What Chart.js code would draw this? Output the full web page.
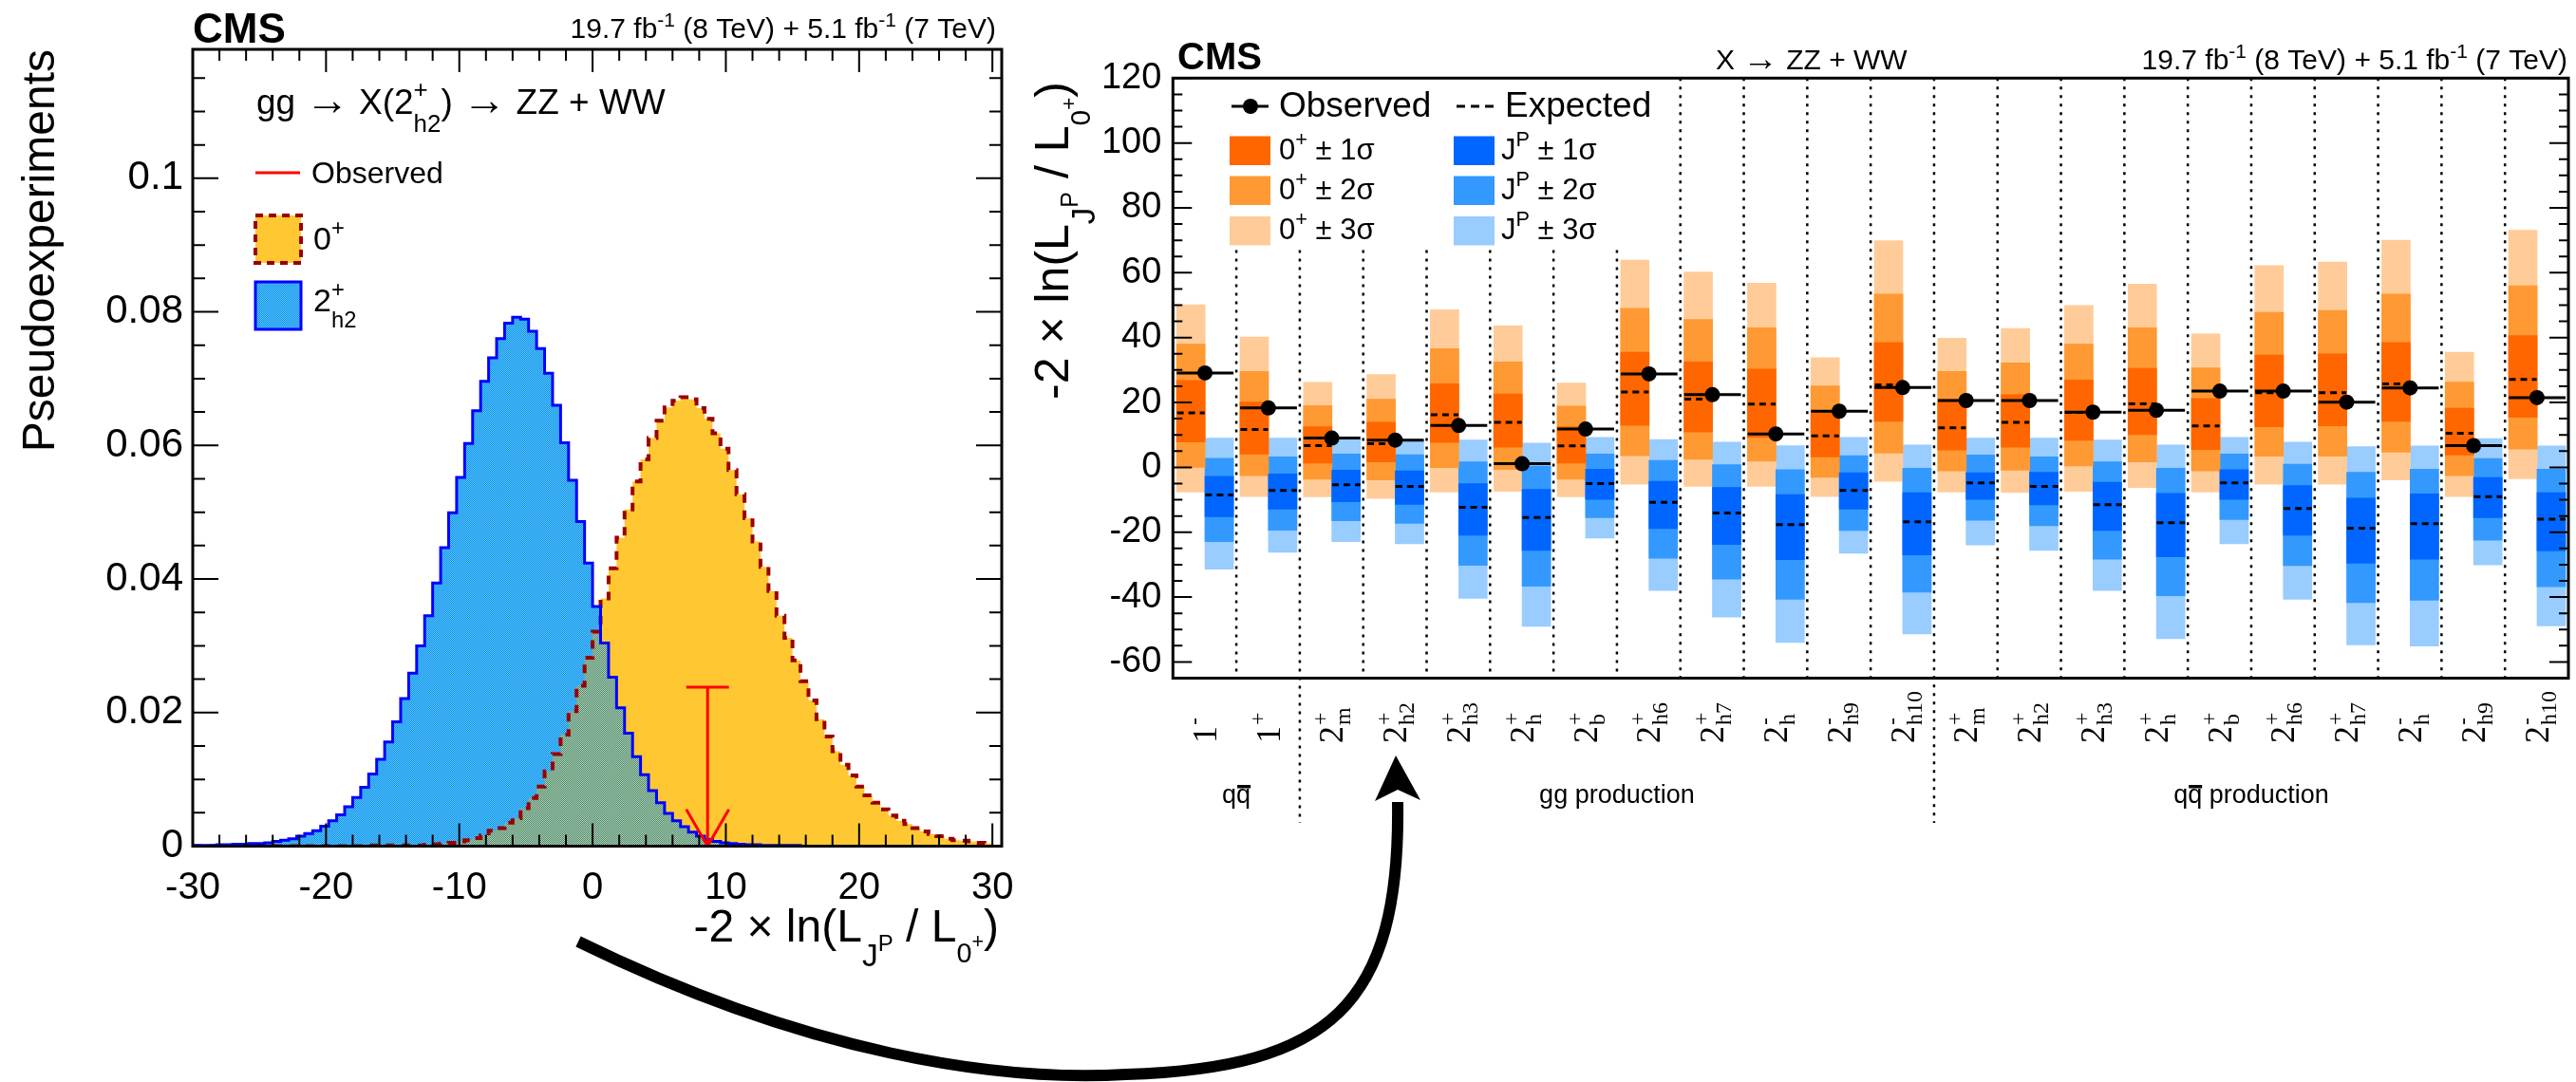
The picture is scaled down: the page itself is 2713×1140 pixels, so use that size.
<!DOCTYPE html>
<html>
<head>
<meta charset="utf-8">
<script src="https://cdn.jsdelivr.net/npm/chart.js@4.4.0/dist/chart.umd.min.js"></script>
<style>
html,body{margin:0;padding:0;background:#fff;width:2713px;height:1140px;overflow:hidden}
canvas{position:absolute;top:0}
#left{left:0}
#right{left:1060px}
#arrow{left:0;pointer-events:none}
</style>
</head>
<body>
<canvas id="left" width="1100" height="1140"></canvas>
<canvas id="right" width="1653" height="1140"></canvas>
<canvas id="arrow" width="2713" height="1140"></canvas>
<script>
/* Left: pseudoexperiment distributions for 0+ vs 2+h2. Right: test statistic summary for all J^P hypotheses. */
const SANS = '"Liberation Sans", Arial, Helvetica, "DejaVu Sans", sans-serif';
const SERIF = '"Liberation Serif", "Times New Roman", serif';

// ---- left panel data: 100 bins of 0.6 from -30 ----
const binLow = -30;
const binWidth = 0.6;
const sm0Plus = [
  0,0,0,0,0,0,0,0,0,0,
  0,0,0,0,0,0,0,0,0,0,
  0,0,0.0001,0.0001,0.0001,0.0001,0.0001,0.0001,0.0001,0.0002,
  0.0003,0.0004,0.0005,0.0007,0.0009,0.0012,0.0016,0.0023,0.0027,0.0035,
  0.0042,0.0057,0.0072,0.0089,0.0112,0.0138,0.0167,0.0202,0.0240,0.0282,
  0.0321,0.0371,0.0416,0.0462,0.0504,0.0546,0.0579,0.0611,0.0637,0.0657,
  0.0667,0.0672,0.0669,0.0656,0.0640,0.0618,0.0595,0.0563,0.0527,0.0491,
  0.0456,0.0418,0.0382,0.0345,0.0312,0.0278,0.0247,0.0218,0.0190,0.0164,
  0.0142,0.0122,0.0106,0.0089,0.0076,0.0065,0.0055,0.0046,0.0038,0.0033,
  0.0027,0.0022,0.0018,0.0015,0.0011,0.0009,0.0008,0.0007,0.0005,0.0004
];
const altH2 = [
  0.0001,0.0001,0.0001,0.0002,0.0002,0.0003,0.0003,0.0004,0.0004,0.0005,
  0.0007,0.0009,0.0011,0.0015,0.0019,0.0023,0.0030,0.0038,0.0047,0.0059,
  0.0073,0.0088,0.0108,0.0130,0.0156,0.0186,0.0221,0.0259,0.0300,0.0345,
  0.0394,0.0447,0.0499,0.0552,0.0603,0.0652,0.0696,0.0731,0.0760,0.0783,
  0.0792,0.0789,0.0771,0.0745,0.0708,0.0660,0.0604,0.0548,0.0486,0.0424,
  0.0359,0.0304,0.0253,0.0207,0.0169,0.0134,0.0107,0.0083,0.0065,0.0049,
  0.0038,0.0029,0.0021,0.0015,0.0010,0.0007,0.0005,0.0004,0.0003,0.0002,
  0.0002,0.0001,0.0001,0.0001,0.0001,0.0001,0,0,0,0,
  0,0,0,0,0,0,0,0,0,0,
  0,0,0,0,0,0,0,0,0,0
];
const observedLLR = 8.63;
const obsArrowTop = 0.0238;
const leftXTicks = [-30, -20, -10, 0, 10, 20, 30];
const leftYTicks = [0, 0.02, 0.04, 0.06, 0.08, 0.1];
const leftYLabels = ['0', '0.02', '0.04', '0.06', '0.08', '0.1'];

// ---- right panel data: one entry per hypothesis ----
const hypBase = ['1','1','2','2','2','2','2','2','2','2','2','2','2','2','2','2','2','2','2','2','2','2'];
const hypSup  = ['-','+','+','+','+','+','+','+','+','-','-','-','+','+','+','+','+','+','+','-','-','-'];
const hypSub  = ['','','m','h2','h3','h','b','h6','h7','h','h9','h10','m','h2','h3','h','b','h6','h7','h','h9','h10'];
const groupLabels = ['qq\u0304', 'gg production', 'qq\u0304 production'];
const groupCentres = [1, 7, 17];
const groupBounds = [2, 12];

const observed = [29.1,18.3,9.0,8.4,12.9,1.1,11.8,28.8,22.4,10.3,17.3,24.6,20.6,20.6,17.0,17.6,23.5,23.5,20.1,24.5,6.7,21.5];
const expected0 = [16.8,11.7,6.7,7.3,16.2,13.9,6.6,23.2,21.0,19.5,9.7,25.4,12.2,13.9,16.9,19.6,12.8,23.0,23.0,25.7,10.5,27.1];
const zero3lo = [-7.6,-9.0,-9.1,-9.6,-7.6,-7.4,-9.1,-5.2,-5.9,-5.9,-9.0,-4.3,-7.6,-7.8,-7.4,-6.2,-7.6,-5.2,-5.2,-3.9,-9.0,-3.5];
const zero2lo = [0.0,-2.6,-3.7,-3.9,-0.1,-0.7,-3.7,3.6,2.5,1.9,-3.1,4.4,-1.1,-0.9,0.4,1.7,-1.1,3.4,3.4,4.7,-2.6,5.6];
const zero1lo = [7.8,4.1,1.3,1.7,7.7,6.2,1.3,12.9,10.9,9.2,3.2,14.2,5.3,6.2,8.3,10.1,5.5,12.5,12.8,14.2,3.8,15.4];
const zero1hi = [26.8,20.1,12.5,13.9,25.8,22.6,12.5,35.5,32.5,30.3,17.0,38.5,21.0,22.4,26.9,30.5,21.2,34.6,35.0,38.5,18.2,40.6];
const zero2hi = [38.0,29.6,19.0,21.0,36.6,32.5,18.9,49.0,45.6,43.0,25.1,53.4,29.6,32.2,38.0,43.0,30.7,47.8,48.4,53.4,26.3,56.0];
const zero3hi = [50.1,40.2,26.2,28.6,48.6,43.6,26.0,63.9,60.2,56.8,33.8,69.9,39.8,42.8,49.9,56.5,41.1,62.2,63.3,70.0,35.5,73.1];
const expectedJP = [-8.5,-7.1,-5.4,-5.9,-12.3,-15.5,-5.0,-10.8,-14.1,-17.7,-7.1,-16.8,-4.8,-5.9,-11.5,-17.1,-4.8,-12.7,-18.8,-17.4,-9.0,-16.0];
const jp3hi = [9.0,9.0,8.6,8.6,8.4,7.5,9.2,8.6,7.8,6.7,9.2,6.9,9.0,9.0,8.4,6.9,9.2,7.8,6.4,6.6,8.9,6.6];
const jp2hi = [2.8,3.2,4.1,3.9,1.7,0.4,4.1,2.1,0.8,-0.7,3.6,-0.3,3.8,3.2,1.7,-0.3,4.1,1.0,-1.5,-0.6,2.7,-0.6];
const jp1hi = [-2.8,-2.0,-0.9,-1.1,-5.0,-6.8,-0.6,-4.3,-6.2,-8.4,-1.7,-7.8,-1.7,-1.5,-4.6,-8.0,-0.7,-5.6,-9.5,-8.2,-3.1,-7.8];
const jp1lo = [-15.2,-12.9,-10.6,-11.4,-20.9,-25.6,-9.9,-18.9,-23.8,-28.5,-12.9,-27.0,-9.9,-11.6,-19.5,-27.6,-9.9,-20.9,-29.6,-28.3,-15.5,-25.8];
const jp2lo = [-22.9,-19.4,-16.5,-17.3,-30.2,-36.7,-15.5,-28.0,-34.5,-40.7,-19.5,-38.5,-16.3,-18.0,-28.3,-39.6,-16.1,-30.3,-41.7,-41.0,-22.5,-36.8];
const jp3lo = [-31.4,-26.2,-22.9,-23.6,-40.4,-49.0,-21.8,-38.0,-46.2,-54.0,-26.5,-51.4,-23.9,-25.6,-38.0,-52.8,-23.6,-40.7,-54.7,-55.1,-30.1,-48.9];
const rightYTicks = [-60, -40, -20, 0, 20, 40, 60, 80, 100, 120];

const ORANGE = ['#ff6600', '#ff9933', '#ffcc99'];
const BLUE = ['#0066ff', '#3399ff', '#99ccff'];
const GOLD = '#ffc832';
const SKY = '#6cc4f4';
const OX = 1060; // page x of the right canvas

// rich text: plain runs {t,s,dy} or stacked {sup,sub,s}
function drawRich(ctx, segs, x, y, size, align, weight){
  weight = weight || 'normal';
  const font = sc => `${weight} ${(size*sc).toFixed(1)}px ${SANS}`;
  const widths = segs.map(sg=>{
    if (sg.sup !== undefined || sg.sub !== undefined){
      ctx.font = font(sg.s || 0.7);
      return Math.max(ctx.measureText(sg.sup||'').width, ctx.measureText(sg.sub||'').width);
    }
    ctx.font = font(sg.s || 1);
    return ctx.measureText(sg.t).width;
  });
  const total = widths.reduce((a,b)=>a+b, 0);
  let cx = align === 'right' ? x - total : align === 'center' ? x - total/2 : x;
  ctx.textAlign = 'left';
  ctx.textBaseline = 'alphabetic';
  segs.forEach((sg,i)=>{
    if (sg.sup !== undefined || sg.sub !== undefined){
      ctx.font = font(sg.s || 0.7);
      if (sg.sup) ctx.fillText(sg.sup, cx, y - 0.45*size);
      if (sg.sub) ctx.fillText(sg.sub, cx, y + 0.5*size);
    } else {
      ctx.font = font(sg.s || 1);
      ctx.fillText(sg.t, cx, y - (sg.dy||0)*size);
    }
    cx += widths[i];
  });
  return total;
}

const llrTitle = [
  {t:'-2 \u00d7 ln(L'}, {t:'J', s:0.7, dy:-0.55}, {t:'P', s:0.5, dy:-0.2},
  {t:' / L'}, {t:'0', s:0.6, dy:-0.45}, {t:'+', s:0.45, dy:-0.15}, {t:')'}
];
const lumiText = [
  {t:'19.7 fb'}, {t:'-1', s:0.7, dy:0.4}, {t:' (8 TeV) + 5.1 fb'}, {t:'-1', s:0.7, dy:0.4}, {t:' (7 TeV)'}
];

// checker hatch: opaque blue dots, holes let the fill underneath show through
function dotPattern(){
  const c = document.createElement('canvas');
  c.width = 2; c.height = 2;
  const g = c.getContext('2d');
  g.fillStyle = 'rgb(0,145,240)';
  g.fillRect(0,0,1,1); g.fillRect(1,1,1,1);
  return g.createPattern(c, 'repeat');
}
const bluePattern = dotPattern();

function histPoints(vals){
  const pts = vals.map((v,k)=>({x: binLow + k*binWidth, y: v}));
  pts.push({x: binLow + vals.length*binWidth, y: vals[vals.length-1]});
  return pts;
}

function inwardTicks(ctx, area, scale, axis, values, len){
  values.forEach(v=>{
    const p = scale.getPixelForValue(v);
    if (axis === 'x'){
      if (p < area.left - 0.5 || p > area.right + 0.5) return;
      ctx.moveTo(p, area.bottom); ctx.lineTo(p, area.bottom - len);
      ctx.moveTo(p, area.top); ctx.lineTo(p, area.top + len);
    } else {
      if (p < area.top - 0.5 || p > area.bottom + 0.5) return;
      ctx.moveTo(area.left, p); ctx.lineTo(area.left + len, p);
      ctx.moveTo(area.right, p); ctx.lineTo(area.right - len, p);
    }
  });
}

const leftDecor = {
  id: 'leftDecor',
  afterDraw(chart){
    const {ctx, chartArea: a, scales: {x, y}} = chart;
    ctx.save();
    ctx.strokeStyle = '#000';
    ctx.lineWidth = 2;
    ctx.beginPath();
    const xMinor = [], yMinor = [];
    for (let v = -30; v <= 30; v += 2) if (v % 10 !== 0) xMinor.push(v);
    for (let v = 0.005; v < 0.12; v += 0.005) if (Math.abs(v/0.02 - Math.round(v/0.02)) > 0.01) yMinor.push(v);
    inwardTicks(ctx, a, x, 'x', leftXTicks, 24);
    inwardTicks(ctx, a, x, 'x', xMinor, 12);
    inwardTicks(ctx, a, y, 'y', leftYTicks, 27);
    inwardTicks(ctx, a, y, 'y', yMinor, 13);
    ctx.stroke();
    ctx.lineWidth = 3;
    ctx.strokeRect(a.left, a.top, a.right - a.left, a.bottom - a.top);

    ctx.fillStyle = '#000';
    ctx.font = `bold 44px ${SANS}`;
    ctx.textAlign = 'left'; ctx.textBaseline = 'alphabetic';
    ctx.fillText('CMS', 203, 45);
    drawRich(ctx, lumiText, 1049, 40, 30, 'right');

    drawRich(ctx, [{t:'gg '}, {t:'\u2192', s:1.25, dy:-0.02}, {t:' X(2'}, {sup:'+', sub:'h2', s:0.7},
                   {t:') '}, {t:'\u2192', s:1.25, dy:-0.02}, {t:' ZZ + WW'}], 270, 120, 37, 'left');
    ctx.strokeStyle = '#ff0000'; ctx.lineWidth = 3;
    ctx.beginPath(); ctx.moveTo(269, 182); ctx.lineTo(316, 182); ctx.stroke();
    drawRich(ctx, [{t:'Observed'}], 328, 193, 32, 'left');

    ctx.fillStyle = GOLD; ctx.fillRect(269, 227, 48, 50);
    ctx.strokeStyle = '#990000'; ctx.lineWidth = 4; ctx.setLineDash([8,6]);
    ctx.strokeRect(269, 227, 48, 50);
    ctx.setLineDash([]);
    ctx.fillStyle = SKY; ctx.fillRect(269, 297, 48, 50);
    ctx.fillStyle = bluePattern; ctx.fillRect(269, 297, 48, 50);
    ctx.strokeStyle = '#0000ff'; ctx.lineWidth = 3;
    ctx.strokeRect(269, 297, 48, 50);
    ctx.fillStyle = '#000';
    drawRich(ctx, [{t:'0'}, {sup:'+', s:0.7}], 330, 263, 34, 'left');
    drawRich(ctx, [{t:'2'}, {sup:'+', sub:'h2', s:0.7}], 330, 328, 34, 'left');

    drawRich(ctx, llrTitle, 1052, 992, 48, 'right');
    ctx.save();
    ctx.translate(57, 52); ctx.rotate(-Math.PI/2);
    ctx.font = `48px ${SANS}`; ctx.textAlign = 'right'; ctx.textBaseline = 'alphabetic';
    ctx.fillText('Pseudoexperiments', 0, 0);
    ctx.restore();
    ctx.restore();
  }
};

const redLine = {type:'line', borderColor:'#ff0000', borderWidth:3, pointRadius:0, fill:false};
new Chart(document.getElementById('left'), {
  type: 'line',
  data: {
    datasets: [
      Object.assign({label:'obs', data:[{x:observedLLR, y:obsArrowTop}, {x:observedLLR, y:0}]}, redLine),
      Object.assign({label:'obs bar', data:[{x:observedLLR-1.6, y:obsArrowTop}, {x:observedLLR+1.6, y:obsArrowTop}]}, redLine),
      Object.assign({label:'obs head', data:[{x:observedLLR-1.6, y:0.0055}, {x:observedLLR, y:0}, {x:observedLLR+1.6, y:0.0055}]}, redLine),
      {label:'2+h2', data: histPoints(altH2), stepped:true, borderColor:'#0000ff', borderWidth:3,
       backgroundColor: bluePattern, fill:'origin', pointRadius:0},
      {label:'0+', data: histPoints(sm0Plus), stepped:true, borderColor:'#990000', borderWidth:4,
       borderDash:[9,8], backgroundColor: GOLD, fill:'origin', pointRadius:0},
      {label:'2+h2 base', data: histPoints(altH2), stepped:true, borderWidth:0, borderColor:'rgba(0,0,0,0)',
       backgroundColor: SKY, fill:'origin', pointRadius:0}
    ]
  },
  options: {
    responsive: false,
    animation: false,
    layout: {padding: {top: 52, right: 45, left: 0, bottom: 0}},
    plugins: {legend: {display: false}, tooltip: {enabled: false}, filler: {drawTime: 'beforeDatasetsDraw'}},
    scales: {
      x: {
        type: 'linear', min: -30, max: 30.7,
        afterFit(s){ s.height = 248.5; },
        afterBuildTicks(s){ s.ticks = leftXTicks.map(v=>({value: v})); },
        ticks: {font: {family: SANS, size: 40}, color: '#000', padding: 20, maxRotation: 0, autoSkip: false,
                callback: v => String(v)},
        grid: {display: false, drawTicks: false},
        border: {display: false}
      },
      y: {
        type: 'linear', min: 0, max: 0.1193,
        afterFit(s){ s.width = 203; },
        afterBuildTicks(s){ s.ticks = leftYTicks.map(v=>({value: v})); },
        ticks: {font: {family: SANS, size: 42}, color: '#000', padding: 10, autoSkip: false,
                callback: (v, i) => leftYLabels[i]},
        grid: {display: false, drawTicks: false},
        border: {display: false}
      }
    }
  },
  plugins: [leftDecor]
});

// ---- right panel ----
function boxes(lo, hi, off){ return lo.map((v,i)=>({x: i + off, y: [v, hi[i]]})); }
function segments(vals, a, b){
  const out = [];
  vals.forEach((v,i)=>{ out.push({x: i+a, y: v}, {x: i+b, y: v}, {x: i+b, y: null}); });
  return out;
}
const OC = 0.2825, JC = 0.73;
function bandSet(label, lo, hi, off, color, order){
  return {type:'bar', label, data: boxes(lo, hi, off), backgroundColor: color, borderWidth: 0,
          barThickness: 30, grouped: false, order};
}

const rightDecor = {
  id: 'rightDecor',
  afterDatasetsDraw(chart){
    const {ctx, chartArea: a, scales: {x, y}} = chart;
    ctx.save();
    ctx.strokeStyle = '#000'; ctx.lineWidth = 2.5; ctx.setLineDash([3,6]);
    ctx.beginPath();
    for (let i = 1; i < hypBase.length; i++){
      const px = x.getPixelForValue(i);
      const top = i <= 7 ? y.getPixelForValue(67) : a.top;
      const bottom = groupBounds.includes(i) ? 867 : a.bottom;
      ctx.moveTo(px, top); ctx.lineTo(px, bottom);
    }
    ctx.stroke();
    ctx.restore();
  },
  afterDraw(chart){
    const {ctx, chartArea: a, scales: {x, y}} = chart;
    ctx.save();
    ctx.strokeStyle = '#000'; ctx.lineWidth = 2;
    ctx.beginPath();
    const minor = [];
    for (let v = -65; v <= 120; v += 5) if (v % 20 !== 0) minor.push(v);
    inwardTicks(ctx, a, y, 'y', rightYTicks, 20);
    inwardTicks(ctx, a, y, 'y', minor, 10);
    ctx.stroke();
    ctx.lineWidth = 3;
    ctx.strokeRect(a.left, a.top, a.right - a.left, a.bottom - a.top);

    // legend
    ctx.fillStyle = '#000';
    ctx.lineWidth = 3;
    ctx.beginPath(); ctx.moveTo(237, 112); ctx.lineTo(276, 112); ctx.stroke();
    ctx.beginPath(); ctx.arc(257, 112, 8, 0, Math.PI*2); ctx.fill();
    drawRich(ctx, [{t:'Observed'}], 287, 123, 37, 'left');
    ctx.setLineDash([9,6]);
    ctx.beginPath(); ctx.moveTo(474, 112); ctx.lineTo(514, 112); ctx.stroke();
    ctx.setLineDash([]);
    drawRich(ctx, [{t:'Expected'}], 525, 123, 37, 'left');
    const rows = [[143.5,168], [185.5,210], [228,252]];
    rows.forEach((r,k)=>{
      ctx.fillStyle = ORANGE[k]; ctx.fillRect(235, r[0], 43, 30.5);
      ctx.fillStyle = BLUE[k]; ctx.fillRect(471, r[0], 43, 30.5);
      ctx.fillStyle = '#000';
      drawRich(ctx, [{t:'0'}, {sup:'+', s:0.7}, {t:' \u00b1 ' + (k+1) + '\u03c3'}], 287, r[1], 31, 'left');
      drawRich(ctx, [{t:'J'}, {sup:'P', s:0.7}, {t:' \u00b1 ' + (k+1) + '\u03c3'}], 521, r[1], 31, 'left');
    });

    // top texts
    ctx.font = `bold 40px ${SANS}`; ctx.textAlign = 'left';
    ctx.fillText('CMS', 1240 - OX, 73);
    drawRich(ctx, [{t:'X '}, {t:'\u2192', s:1.25, dy:-0.02}, {t:' ZZ + WW'}], 1807 - OX, 73, 30, 'left');
    drawRich(ctx, lumiText, 2704 - OX, 73, 30, 'right');

    // rotated hypothesis labels
    for (let i = 0; i < hypBase.length; i++){
      const cx = x.getPixelForValue(i + 0.5);
      ctx.save();
      ctx.translate(cx, 783); ctx.rotate(-Math.PI/2);
      ctx.textAlign = 'left'; ctx.textBaseline = 'alphabetic';
      ctx.font = `36px ${SERIF}`;
      ctx.fillText(hypBase[i], 0, 12);
      const w = ctx.measureText(hypBase[i]).width + 1;
      ctx.font = `24px ${SERIF}`;
      ctx.fillText(hypSup[i], w, -4);
      if (hypSub[i]) ctx.fillText(hypSub[i], w, 20);
      ctx.restore();
    }
    // production groups, qq-bar gets a bar over its second q
    ctx.font = `27px ${SANS}`;
    ctx.textAlign = 'left';
    groupLabels.forEach((g,k)=>{
      const cx = x.getPixelForValue(groupCentres[k]);
      const bar = g.indexOf('\u0304');
      const plain = g.replace('\u0304', '');
      const w = ctx.measureText(plain).width;
      const x0 = cx - w/2;
      ctx.fillText(plain, x0, 846);
      if (bar > 0){
        const before = ctx.measureText(plain.slice(0, bar - 1)).width;
        const qw = ctx.measureText(plain.charAt(bar - 1)).width;
        ctx.fillRect(x0 + before + 1, 827, qw - 1, 3.5);
      }
    });

    // y title
    ctx.save();
    ctx.translate(1125 - OX, 86); ctx.rotate(-Math.PI/2);
    drawRich(ctx, llrTitle, 0, 0, 50, 'right');
    ctx.restore();
    ctx.restore();
  }
};

new Chart(document.getElementById('right'), {
  type: 'bar',
  data: {
    datasets: [
      {type:'line', label:'observed', data: observed.map((v,i)=>({x: i + 0.505, y: v})), showLine: false,
       pointRadius: 8, pointBackgroundColor: '#000', pointBorderWidth: 0, order: 0},
      {type:'line', label:'observed bar', data: segments(observed, 0.06, 0.955), borderColor: '#000',
       borderWidth: 3, pointRadius: 0, spanGaps: false, order: 1},
      {type:'line', label:'expected 0+', data: segments(expected0, 0.065, 0.5), borderColor: '#000',
       borderWidth: 3, borderDash: [7,5], pointRadius: 0, spanGaps: false, order: 2},
      {type:'line', label:'expected JP', data: segments(expectedJP, 0.51, 0.955), borderColor: '#000',
       borderWidth: 3, borderDash: [7,5], pointRadius: 0, spanGaps: false, order: 2},
      bandSet('0+ 1s', zero1lo, zero1hi, OC, ORANGE[0], 3),
      bandSet('0+ 2s', zero2lo, zero2hi, OC, ORANGE[1], 4),
      bandSet('0+ 3s', zero3lo, zero3hi, OC, ORANGE[2], 5),
      bandSet('JP 1s', jp1lo, jp1hi, JC, BLUE[0], 3),
      bandSet('JP 2s', jp2lo, jp2hi, JC, BLUE[1], 4),
      bandSet('JP 3s', jp3lo, jp3hi, JC, BLUE[2], 5)
    ]
  },
  options: {
    responsive: false,
    animation: false,
    layout: {padding: {top: 82.3, right: 3, left: 0, bottom: 425.5}},
    plugins: {legend: {display: false}, tooltip: {enabled: false}},
    scales: {
      x: {type: 'linear', min: 0, max: 22, offset: false, display: false},
      y: {
        type: 'linear', min: -65, max: 120,
        afterFit(s){ s.width = 175.3; },
        afterBuildTicks(s){ s.ticks = rightYTicks.map(v=>({value: v})); },
        ticks: {font: {family: SANS, size: 38}, color: '#000', padding: 12, autoSkip: false,
                callback: v => String(v)},
        grid: {display: false, drawTicks: false},
        border: {display: false}
      }
    }
  },
  plugins: [rightDecor]
});

// curved arrow linking the two panels
const ac = document.getElementById('arrow').getContext('2d');
ac.strokeStyle = '#000'; ac.fillStyle = '#000';
ac.lineWidth = 12; ac.lineCap = 'butt';
ac.beginPath();
ac.moveTo(609, 992);
ac.bezierCurveTo(850, 1110, 1050, 1140, 1186, 1132);
ac.bezierCurveTo(1400, 1125, 1475, 1060, 1472, 845);
ac.stroke();
ac.beginPath();
ac.moveTo(1470, 796); ac.lineTo(1496, 843); ac.lineTo(1472, 832); ac.lineTo(1448, 844);
ac.closePath(); ac.fill();
</script>
</body>
</html>
